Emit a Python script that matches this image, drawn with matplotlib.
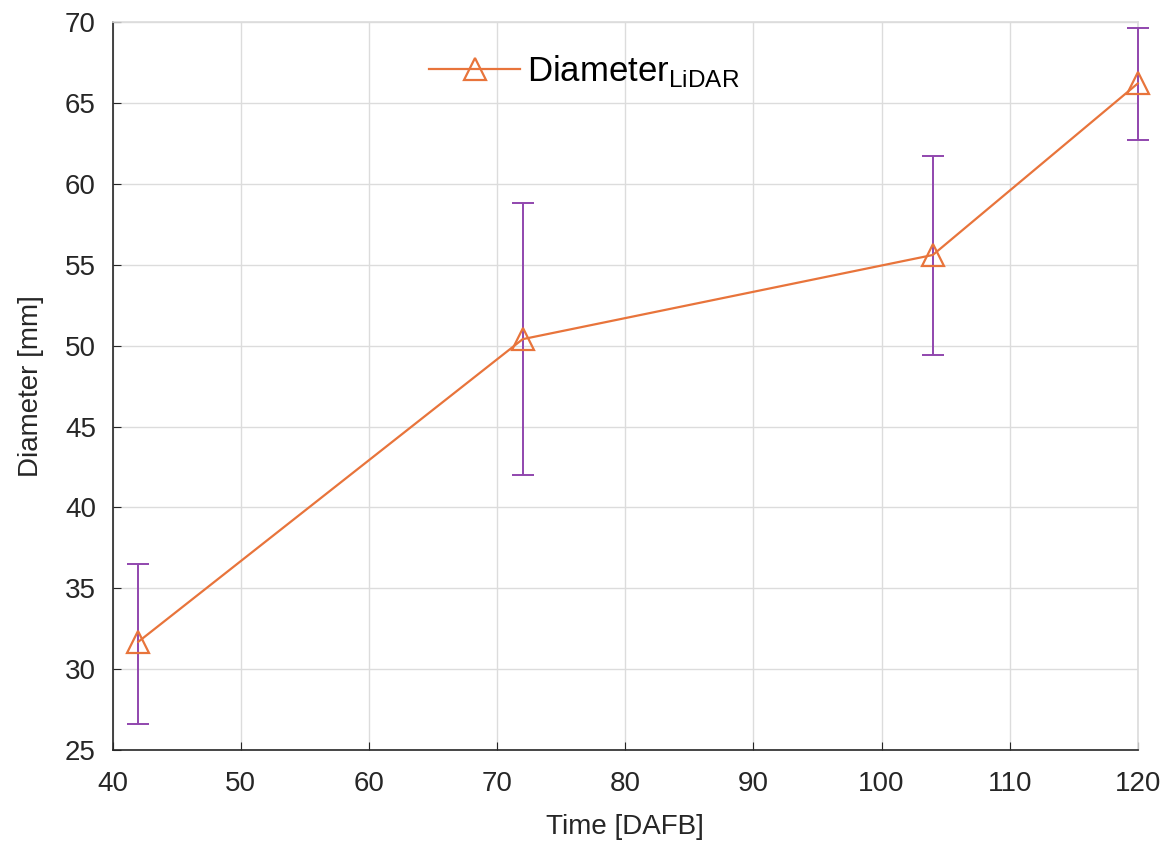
import numpy as np
import matplotlib
matplotlib.use('Agg')
import matplotlib.pyplot as plt

plt.rcParams['font.family'] = ['Liberation Sans', 'DejaVu Sans']
plt.rcParams['mathtext.fontset'] = 'custom'
plt.rcParams['mathtext.rm'] = 'Liberation Sans'

# data
time_dafb = [42, 72, 104, 120]
diameter = [31.7, 50.4, 55.6, 66.2]
err_low = [26.6, 42.0, 49.4, 62.7]
err_high = [36.5, 58.8, 61.7, 69.6]

xticks = [40, 50, 60, 70, 80, 90, 100, 110, 120]
yticks = [25, 30, 35, 40, 45, 50, 55, 60, 65, 70]

d = np.array(diameter)
yerr = [d - np.array(err_low), np.array(err_high) - d]

fig = plt.figure(figsize=(11.73, 8.43), dpi=100)
ax = fig.add_axes([0.096, 0.11, 0.874, 0.864])

eb = ax.errorbar(time_dafb, diameter, yerr=yerr, fmt='none', ecolor='#9146AE',
                 elinewidth=1.4, capsize=8, capthick=1.4, zorder=3)
for art in list(eb.lines[1]) + list(eb.lines[2]):
    art.set_clip_on(False)
line, = ax.plot(time_dafb, diameter, color='#E8743B', lw=1.6, marker='^', ms=16,
                mfc='none', mec='#E8743B', mew=1.6, zorder=4,
                label=r'Diameter$_{\mathrm{LiDAR}}$')
line.set_clip_on(False)

ax.set_xlim(40, 120)
ax.set_ylim(25, 70)
ax.set_xticks(xticks)
ax.set_yticks(yticks)
ax.grid(True, color='#dcdcdc', lw=1)
ax.set_axisbelow(True)
ax.tick_params(labelsize=20, colors='#262626', length=6, direction='in',
               top=False, right=False)
ax.tick_params(axis='x', pad=15)
ax.tick_params(axis='y', pad=12)
for s in ax.spines.values():
    s.set_color('#262626')
    s.set_linewidth(1.2)
ax.spines['top'].set_color('#dcdcdc')
ax.spines['right'].set_color('#dcdcdc')

ax.set_xlabel('Time [DAFB]', fontsize=20, color='#262626', labelpad=12)
ax.set_ylabel('Diameter [mm]', fontsize=20, color='#262626', labelpad=15)

ax.legend(loc='upper center', bbox_to_anchor=(0.46, 1.0), frameon=False,
          fontsize=25, handlelength=2.6, handletextpad=0.2)

fig.savefig('out.png', dpi=100)
